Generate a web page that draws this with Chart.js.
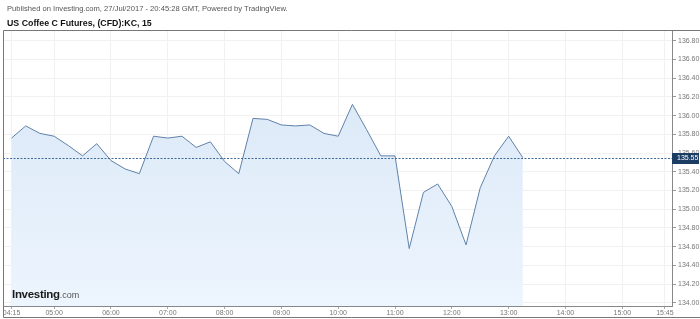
<!DOCTYPE html>
<html>
<head>
<meta charset="utf-8">
<script src="https://cdn.jsdelivr.net/npm/chart.js@4"></script>
<style>
    body { margin: 0; background: #fff; }
    #wrap { position: relative; width: 700px; height: 319px; }
    .txt { position: absolute; font-family: "Liberation Sans", Arial, sans-serif; white-space: nowrap; }
    #pub { left: 7px; top: 4px; font-size: 7.6px; color: #555; }
    #ttl { left: 7px; top: 18px; font-size: 8.8px; font-weight: bold; color: #111; }
    #logo { left: 12px; top: 288px; font-size: 11.5px; font-weight: bold; color: #1a1a1a; letter-spacing: -0.3px; }
    #logo span { font-weight: normal; font-size: 9px; color: #555; letter-spacing: 0; }
</style>
</head>
<body>
<div id="wrap">
    <canvas id="canvas"></canvas>
    <div class="txt" id="pub">Published on Investing.com, 27/Jul/2017 - 20:45:28 GMT, Powered by TradingView.</div>
    <div class="txt" id="ttl">US Coffee C Futures, (CFD):KC, 15</div>
    <div class="txt" id="logo">Investing<span>.com</span></div>
</div>
<script>
// 15 minute bars, 04:15 -> 13:15
var horas = ['04:15', '04:30', '04:45', '05:00', '05:15', '05:30', '05:45', '06:00', '06:15', '06:30',
    '06:45', '07:00', '07:15', '07:30', '07:45', '08:00', '08:15', '08:30', '08:45', '09:00',
    '09:15', '09:30', '09:45', '10:00', '10:15', '10:30', '10:45', '11:00', '11:15', '11:30',
    '11:45', '12:00', '12:15', '12:30', '12:45', '13:00', '13:15'];
var precos = [135.76, 135.89, 135.81, 135.78, 135.68, 135.57, 135.70, 135.52, 135.43, 135.38,
    135.78, 135.76, 135.78, 135.66, 135.72, 135.51, 135.38, 135.97, 135.96, 135.90,
    135.89, 135.90, 135.81, 135.78, 136.12, 135.85, 135.57, 135.57, 134.58, 135.18,
    135.27, 135.03, 134.62, 135.23, 135.57, 135.78, 135.55];
var xTicks = ['04:15', '05:00', '06:00', '07:00', '08:00', '09:00', '10:00', '11:00', '12:00', '13:00', '14:00', '15:00', '15:45'];
var yTicks = [134.0, 134.2, 134.4, 134.6, 134.8, 135.0, 135.2, 135.4, 135.6, 135.8, 136.0, 136.2, 136.4, 136.6, 136.8];
var ultimo = precos[precos.length - 1];

function asIndex(hora) {
    var p = hora.split(':');
    return (parseInt(p[0]) * 60 + parseInt(p[1]) - 255) / 15;
}
function asHora(idx) {
    var m = Math.round(255 + idx * 15);
    var h = Math.floor(m / 60), mm = m % 60;
    return (h < 10 ? '0' : '') + h + ':' + (mm < 10 ? '0' : '') + mm;
}

var pontos = [];
for (var i = 0; i < horas.length; i++) {
    pontos.push({ x: asIndex(horas[i]), y: precos[i] });
}

var extras = {
    id: 'extras',
    afterDatasetsDraw: function (chart) {
        var ctx = chart.ctx, area = chart.chartArea;
        var y = Math.round(chart.scales.y.getPixelForValue(ultimo)) + 0.5;
        ctx.save();
        ctx.strokeStyle = '#3d6a98';
        ctx.lineWidth = 1;
        ctx.setLineDash([2, 1.5]);
        ctx.beginPath();
        ctx.moveTo(area.left, y);
        ctx.lineTo(area.right, y);
        ctx.stroke();
        ctx.restore();
    },
    afterDraw: function (chart) {
        var ctx = chart.ctx, area = chart.chartArea;
        var y = Math.round(chart.scales.y.getPixelForValue(ultimo));
        ctx.save();
        ctx.fillStyle = '#1b3d63';
        ctx.fillRect(area.right, y - 5, 27, 11);
        ctx.fillStyle = '#fff';
        ctx.font = '7px "Liberation Sans", Arial, sans-serif';
        ctx.textBaseline = 'middle';
        ctx.fillText(ultimo.toFixed(2), area.right + 5, y + 0.5);
        // moldura
        ctx.strokeStyle = '#777';
        ctx.lineWidth = 1;
        ctx.beginPath();
        ctx.moveTo(700, 30.5);
        ctx.lineTo(3.5, 30.5);
        ctx.lineTo(3.5, 317.5);
        ctx.lineTo(700, 317.5);
        ctx.stroke();
        ctx.restore();
    }
};

var config = {
    type: 'line',
    data: {
        datasets: [{
            data: pontos,
            borderColor: '#5f82a8',
            borderWidth: 1,
            pointRadius: 0,
            tension: 0,
            fill: 'start',
            backgroundColor: function (c) {
                var area = c.chart.chartArea;
                if (!area) return '#e0ecf8';
                var g = c.chart.ctx.createLinearGradient(0, area.top, 0, area.bottom);
                g.addColorStop(0, '#d6e5f5');
                g.addColorStop(1, '#edf5fe');
                return g;
            }
        }]
    },
    options: {
        responsive: true,
        maintainAspectRatio: false,
        animation: false,
        devicePixelRatio: 1,
        layout: { padding: { top: 30, left: 3, right: 0, bottom: 0 } },
        plugins: { legend: { display: false }, tooltip: { enabled: false } },
        scales: {
            x: {
                type: 'linear',
                min: -0.6,
                max: 46.5,
                afterBuildTicks: function (scale) {
                    scale.ticks = xTicks.map(function (t) { return { value: asIndex(t) }; });
                },
                afterFit: function (scale) { scale.height = 13; },
                ticks: {
                    autoSkip: false,
                    maxRotation: 0,
                    padding: 0,
                    color: '#777',
                    font: { size: 7, family: '"Liberation Sans", Arial, sans-serif' },
                    callback: function (v) { return asHora(v); }
                },
                grid: { color: '#f1f1f1', tickColor: '#aaa', tickLength: 3 },
                border: { display: true, color: '#888' }
            },
            y: {
                position: 'right',
                min: 133.967,
                max: 136.914,
                afterBuildTicks: function (scale) {
                    scale.ticks = yTicks.map(function (v) { return { value: v }; });
                },
                afterFit: function (scale) { scale.width = 28; },
                ticks: {
                    padding: 2,
                    color: '#777',
                    font: { size: 7, family: '"Liberation Sans", Arial, sans-serif' },
                    callback: function (v) { return v.toFixed(2); }
                },
                grid: { color: '#f1f1f1', tickColor: '#999', tickLength: 4 },
                border: { display: true, color: '#888' }
            }
        }
    },
    plugins: [extras]
};

var ctx = document.getElementById('canvas').getContext('2d');
window.myLine = new Chart(ctx, config);
</script>
</body>
</html>
